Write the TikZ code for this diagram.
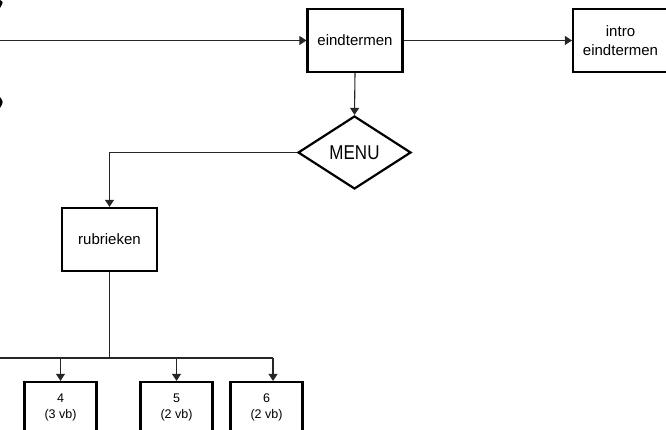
\documentclass[tikz,border=0pt]{standalone}
\usepackage{fontspec}
\setmainfont{Liberation Sans}
\usetikzlibrary{shapes.geometric, arrows.meta}

\begin{document}
\begin{tikzpicture}[x=1pt, y=-1pt,
  box/.style={draw=black, rectangle, line width=2.2pt, inner sep=2pt, align=center,
    minimum width=95pt, minimum height=63pt, font=\fontsize{15}{19}\selectfont},
  smallbox/.style={box, minimum width=72pt, minimum height=50pt, font=\fontsize{12.5}{16}\selectfont},
  flow/.style={-{Triangle[length=7pt, width=9pt]}, line width=1.1pt, draw=black!85},
  wire/.style={line width=1.1pt, draw=black!85}]
\useasboundingbox (0,0) rectangle (666,430);
\clip (0,0) rectangle (666,430);

% cut-off shapes at the left edge
\fill (0,0) .. controls (3.5,2) .. (0,8) -- cycle;
\fill (0,97) .. controls (3.5,102) .. (0,108) -- cycle;

\node[box] (eindtermen) at (355,40.5)
  {eindtermen};
\node[box] (intro) at (620.5,40.5)
  {intro\\eindtermen};
\node[draw=black, diamond, line width=2.2pt, minimum width=113pt, minimum height=73pt,
  inner sep=0pt, font=\fontsize{20}{22}\selectfont] (menu) at (354.5,152.5)
  {\scalebox{0.85}[1]{MENU}};
\node[box] (rubrieken) at (109.5,239.5)
  {rubrieken};

\node[smallbox] (vb4) at (60.5,407)
  {4\\(3 vb)};
\node[smallbox] (vb5) at (176.5,407)
  {5\\(2 vb)};
\node[smallbox] (vb6) at (266.5,407)
  {6\\(2 vb)};

\coordinate (inleft) at (0,40.5);
\coordinate (split) at (109.5,358);
\coordinate (busleft) at (0,358);
\coordinate (to6) at (273,358);

\draw[flow] (inleft) -- (eindtermen.west);
\draw[flow] (eindtermen.east) -- (intro.west);
\draw[flow] (eindtermen.south) -- (menu.north);
\draw[flow] (menu.west) -| (rubrieken.north);

\draw[wire] (rubrieken.south) -- (split);
\draw[wire] (busleft) -- (to6);
\draw[flow] (vb4.north |- split) -- (vb4.north);
\draw[flow] (vb5.north |- split) -- (vb5.north);
\draw[flow] (to6) -- (to6 |- vb6.north);

\end{tikzpicture}
\end{document}
